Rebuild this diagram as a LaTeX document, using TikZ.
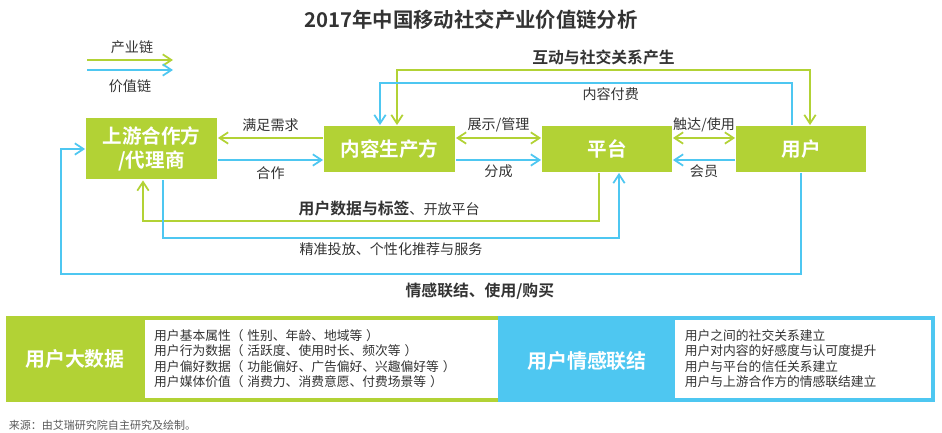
\documentclass[tikz,border=0pt]{standalone}
\usepackage{fontspec}
\setmainfont{Noto Sans CJK SC}[BoldFont={Noto Sans CJK SC Bold}]
\usetikzlibrary{arrows.meta, positioning, calc}
\definecolor{leaf}{HTML}{B2D235}
\definecolor{sky}{HTML}{4EC7F1}
\definecolor{ink}{HTML}{333333}
\definecolor{mdgray}{HTML}{595959}
\newcommand{\lp}{（\hspace{0.3em}}
\newcommand{\rp}{\hspace{0.3em}）}

\begin{document}
\begin{tikzpicture}[>={Straight Barb[length=2.6mm, width=3.4mm]}, line width=1.5pt,
  box/.style={fill=leaf, text=white, align=center, inner sep=0pt,
    font=\fontsize{16.7}{21}\selectfont\bfseries},
  indline/.style={draw=leaf, line width=1.5pt},
  valline/.style={draw=sky, line width=1.5pt},
  lbl/.style={text=ink, font=\fontsize{12}{14}\selectfont},
  blbl/.style={text=ink, font=\fontsize{13.5}{16}\selectfont\bfseries},
  paneltitle/.style={text=white, font=\fontsize{17}{20}\selectfont\bfseries},
  listtext/.style={text=ink, align=left, anchor=west, inner sep=0pt,
    font=\fontsize{10.9}{13.3}\selectfont}]

\useasboundingbox (0,0) rectangle (28.26,12.96);

% Title
\node[text=ink, font=\fontsize{17.4}{20}\selectfont\bfseries] (title) at (14.13,12.36)
  {2017年中国移动社交产业价值链分析};

%% Legend
\coordinate (lgIa) at (2.61,11.16);
\coordinate (lgIb) at (5.19,11.16);
\coordinate (lgVa) at (2.61,10.86);
\coordinate (lgVb) at (5.19,10.86);
\draw[indline, ->] (lgIa) -- (lgIb);
\draw[valline, ->] (lgVa) -- (lgVb);
\node[lbl] (lgI) at (3.96,11.55) {产业链};
\node[lbl] (lgV) at (3.9,10.38) {价值链};

%% Players
\node[box, minimum width=3.93cm, minimum height=1.83cm] (up) at (4.545,8.49) {上游合作方\\/代理商};
\node[box, minimum width=3.93cm, minimum height=1.38cm] (cp) at (11.685,8.49) {内容生产方};
\node[box, minimum width=3.9cm, minimum height=1.38cm] (pt) at (18.21,8.49) {平台};
\node[box, minimum width=3.9cm, minimum height=1.38cm] (us) at (24.03,8.49) {用户};

%% Straight links
\draw[indline, ->] ([yshift=3.3mm]cp.west) -- node[lbl, above, yshift=1pt] (lneed) {满足需求} ([yshift=3.3mm]up.east);
\draw[valline, ->] ([yshift=-3.3mm]up.east) -- node[lbl, below, yshift=-2pt] (lcoop) {合作} ([yshift=-3.3mm]cp.west);
\draw[indline, <->] ([yshift=3.3mm]cp.east) -- node[lbl, above, yshift=1pt] (lshow) {展示/管理} ([yshift=3.3mm]pt.west);
\draw[valline, ->] ([yshift=-3.3mm]cp.east) -- node[lbl, below] (lshare) {分成} ([yshift=-3.3mm]pt.west);
\draw[indline, <->] ([yshift=3.3mm]pt.east) -- node[lbl, above, yshift=1pt] (lreach) {触达/使用} ([yshift=3.3mm]us.west);
\draw[valline, ->] ([yshift=-3.3mm]us.west) -- node[lbl, below] (lmember) {会员} ([yshift=-3.3mm]pt.east);

%% Loops over the top
\draw[indline, <->] ([xshift=2.25mm]cp.north) -- ++(0,1.65)
  -| node[blbl, pos=0.25, above] (lsocial) {互动与社交关系产生} ([xshift=2.7mm]us.north);
\draw[valline, ->] ([xshift=-2.7mm]us.north) -- ++(0,1.26)
  -| node[lbl, pos=0.22, below] (lpay) {内容付费} ([xshift=-2.85mm]cp.north);

%% Loops underneath
\draw[indline, ->] ([xshift=-2.4mm]pt.south) -- ++(0,-1.44)
  -| node[blbl, pos=0.23, above] (ldata) {用户数据与标签{\mdseries\fontsize{12}{14}\selectfont 、开放平台}} ([xshift=-2.55mm]up.south);
\draw[valline, ->] ([xshift=3.45mm]up.south) -- ++(0,-1.74)
  -| node[lbl, pos=0.25, below] (ladv) {精准投放、个性化推荐与服务} ([xshift=3.6mm]pt.south);
\coordinate (loopL) at (1.83,4.74);
\draw[valline, ->] (us.south) |- (loopL)
  node[blbl, pos=0.717, below, yshift=-4pt] (lbond) {情感联结、使用/购买} |- (up.west);

%% Bottom panels
\fill[leaf] (0.18,0.9) rectangle (14.94,3.48);
\fill[white] (4.35,1.02) rectangle (14.94,3.36);
\fill[sky] (14.94,0.9) rectangle (28.05,3.48);
\fill[white] (20.25,1.02) rectangle (27.93,3.36);

\node[paneltitle] (bigdata) at (2.25,2.19) {用户大数据};
\node[listtext] (bigdatalist) at (4.6,2.2)
  {用户基本属性\lp 性别、年龄、地域等\rp\\
   用户行为数据\lp 活跃度、使用时长、频次等\rp\\
   用户偏好数据\lp 功能偏好、广告偏好、兴趣偏好等\rp\\
   用户媒体价值\lp 消费力、消费意愿、付费场景等\rp};

\node[paneltitle] (bond) at (17.61,2.13) {用户情感联结};
\node[listtext] (bondlist) at (20.52,2.2)
  {用户之间的社交关系建立\\
   用户对内容的好感度与认可度提升\\
   用户与平台的信任关系建立\\
   用户与上游合作方的情感联结建立};

% Source
\node[anchor=west, text=mdgray, inner sep=0pt, font=\fontsize{9.4}{11}\selectfont] (src) at (0.24,0.2)
  {来源：由艾瑞研究院自主研究及绘制。};

\end{tikzpicture}
\end{document}
